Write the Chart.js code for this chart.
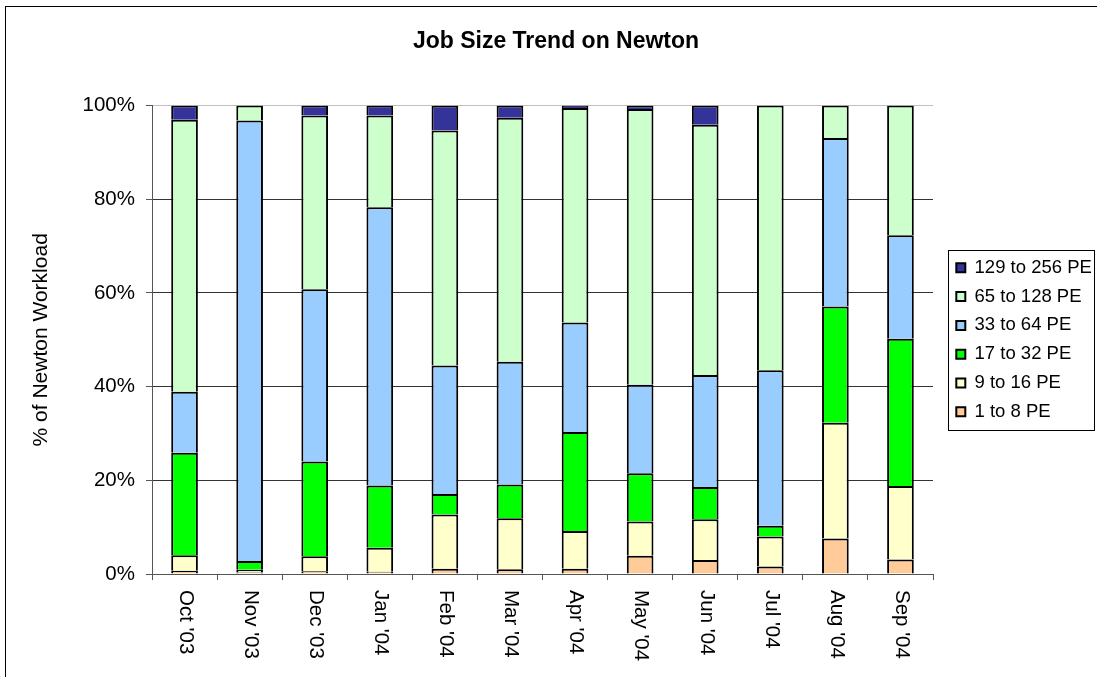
<!DOCTYPE html>
<html lang="en">
<head>
<meta charset="UTF-8">
<title>Job Size Trend on Newton</title>
<script src="https://cdn.jsdelivr.net/npm/chart.js"></script>
<style>
    body { margin: 0; background: #fff; }
    .quadro { position: relative; width: 1097px; height: 677px; overflow: hidden; }
    .moldura { position: absolute; left: 5px; top: 6px; width: 1200px; height: 800px; border: 1px solid #000; }
    .grafico { position: absolute; left: 0; top: 0; width: 1097px; height: 677px; }
</style>
</head>
<body>
<div class="quadro">
    <div class="moldura"></div>
    <div class="grafico"><canvas id="graficoJobs"></canvas></div>
</div>

<script>
    // meses e fatias (% do workload) por faixa de PEs
    const meses = ["Oct '03", "Nov '03", "Dec '03", "Jan '04", "Feb '04", "Mar '04",
                   "Apr '04", "May '04", "Jun '04", "Jul '04", "Aug '04", "Sep '04"];
    const pe1a8     = [0.7, 0.3, 0.6, 0.5, 1.1, 1.0, 1.1, 3.9, 3.0, 1.6, 7.6, 3.1];
    const pe9a16    = [3.3, 0.6, 3.2, 5.1, 11.6, 10.9, 8.1, 7.3, 8.7, 6.4, 24.7, 15.7];
    const pe17a32   = [21.9, 1.9, 20.2, 13.3, 4.4, 7.2, 21.1, 10.3, 6.9, 2.3, 24.8, 31.4];
    const pe33a64   = [13.0, 94.0, 36.8, 59.4, 27.4, 26.2, 23.4, 18.9, 23.9, 33.2, 36.0, 22.1];
    const pe65a128  = [58.1, 3.2, 37.1, 19.6, 50.2, 52.1, 45.8, 58.9, 53.4, 56.5, 6.9, 27.7];
    const pe129a256 = [3.0, 0, 2.1, 2.1, 5.3, 2.6, 0.5, 0.7, 4.1, 0, 0, 0];
    const ticksY = [0, 20, 40, 60, 80, 100];

    const fonte = "'Liberation Sans', Arial, sans-serif";

    function serie(nome, dados, cor) {
        return {
            label: nome,
            data: dados,
            backgroundColor: cor,
            borderColor: '#000',
            borderWidth: 2,
            borderSkipped: 'start',
            barPercentage: 0.41,
            categoryPercentage: 1
        };
    }

    // rotulos do eixo x girados no sentido horario + moldura da legenda
    const extras = {
        id: 'extras',
        afterLayout(chart) {
            chart.legend.left += 13;
            chart.legend.right += 13;
        },
        afterDraw(chart) {
            const ctx = chart.ctx;
            const eixoX = chart.scales.x;
            ctx.save();
            ctx.fillStyle = '#000';
            ctx.font = '20.5px ' + fonte;
            ctx.textAlign = 'left';
            ctx.textBaseline = 'middle';
            meses.forEach((m, i) => {
                const x = eixoX.getPixelForValue(i);
                ctx.save();
                ctx.translate(x + 1, eixoX.bottom + 10);
                ctx.rotate(Math.PI / 2);
                ctx.fillText(m, 0, 0);
                ctx.restore();
            });

            const caixas = chart.legend.legendHitBoxes;
            if (caixas && caixas.length) {
                let topo = Infinity, base = -Infinity, esq = Infinity;
                caixas.forEach(c => {
                    topo = Math.min(topo, c.top);
                    base = Math.max(base, c.top + c.height);
                    esq = Math.min(esq, c.left);
                });
                ctx.strokeStyle = '#000';
                ctx.lineWidth = 1;
                ctx.strokeRect(Math.round(esq - 8) + 0.5, Math.round(topo - 9) + 0.5,
                               1094 - Math.round(esq - 8), Math.round(base - topo + 17));
            }
            ctx.restore();
        }
    };

    new Chart(document.getElementById('graficoJobs'), {
        type: 'bar',
        data: {
            labels: meses,
            datasets: [
                serie('1 to 8 PE', pe1a8, '#FFCC99'),
                serie('9 to 16 PE', pe9a16, '#FFFFCC'),
                serie('17 to 32 PE', pe17a32, '#00FF00'),
                serie('33 to 64 PE', pe33a64, '#99CCFF'),
                serie('65 to 128 PE', pe65a128, '#CCFFCC'),
                serie('129 to 256 PE', pe129a256, '#333399')
            ]
        },
        options: {
            responsive: true,
            maintainAspectRatio: false,
            animation: false,
            devicePixelRatio: 1,
            layout: { padding: { left: 29, right: 14, top: 0, bottom: 97 } },
            plugins: {
                title: {
                    display: true,
                    text: 'Job Size Trend on Newton',
                    color: '#000',
                    font: { family: fonte, size: 23, weight: 'bold' },
                    padding: { top: 28, bottom: 50 }
                },
                legend: {
                    position: 'right',
                    fullSize: false,
                    reverse: true,
                    maxWidth: 150,
                    labels: {
                        color: '#000',
                        font: { family: fonte, size: 18.5 },
                        boxWidth: 9,
                        boxHeight: 9,
                        padding: 10.3
                    }
                },
                tooltip: { enabled: false }
            },
            scales: {
                x: {
                    stacked: true,
                    grid: {
                        display: true,
                        drawOnChartArea: false,
                        drawTicks: true,
                        tickLength: 6,
                        offset: true,
                        tickColor: '#555'
                    },
                    border: { display: true, color: '#555', width: 1 },
                    ticks: { display: false }
                },
                y: {
                    stacked: true,
                    min: 0,
                    max: 100,
                    afterFit(scale) { scale.width = 123; },
                    afterBuildTicks(scale) { scale.ticks = ticksY.map(v => ({ value: v })); },
                    title: {
                        display: true,
                        text: '% of Newton Workload',
                        color: '#000',
                        font: { family: fonte, size: 21 },
                        padding: 0
                    },
                    grid: {
                        color: (c) => (c.tick && c.tick.value === 100) ? '#c0c0c0' : '#333',
                        tickColor: '#555',
                        tickLength: 6
                    },
                    border: { display: true, color: '#555', width: 1 },
                    ticks: {
                        color: '#000',
                        font: { family: fonte, size: 20.5 },
                        padding: 11,
                        callback: (v) => v + '%'
                    }
                }
            }
        },
        plugins: [extras]
    });
</script>
</body>
</html>
